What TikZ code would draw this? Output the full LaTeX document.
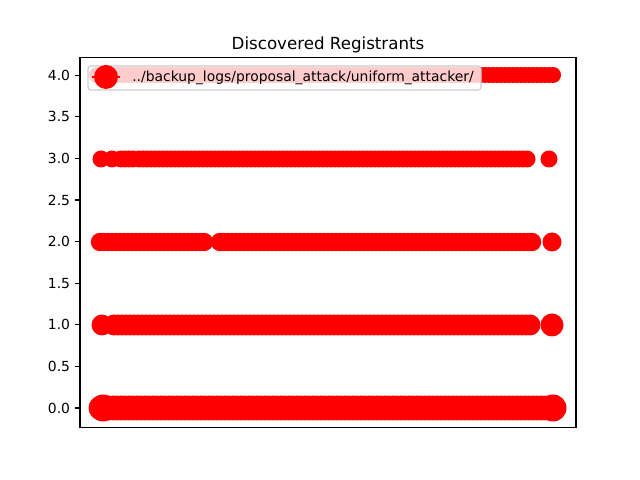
\documentclass[tikz,border=0pt]{standalone}
\usepackage{fontspec}
\setmainfont{DejaVu Sans}
\usetikzlibrary{positioning}
\definecolor{mplred}{RGB}{255,0,0}
\definecolor{legendedge}{RGB}{204,204,204}
\tikzset{
    axisframe/.style={draw=black, line width=0.8pt},
    ytick/.style={draw=black, line width=0.8pt},
    ticklabel/.style={anchor=east, inner sep=0pt, font=\fontsize{10}{12}\selectfont},
    titlelabel/.style={anchor=base, inner sep=0pt, font=\fontsize{12}{14}\selectfont},
    dot/.style={fill=mplred},
    legendbox/.style={draw=legendedge, fill=white, fill opacity=0.8, rounded corners=2pt, line width=0.8pt},
    legendline/.style={draw=mplred, line width=1.5pt},
    legendlabel/.style={anchor=west, inner sep=0pt, font=\fontsize{10}{12}\selectfont},
}
% a row of markers: height, radius, first values, last value
\newcommand{\markrow}[4]{\fill[dot] \foreach \xx in {#3,...,#4} {(\xx,#1) circle (#2)};}
% a single marker: height, radius, position
\newcommand{\markdot}[3]{\fill[dot] (#3,#1) circle (#2);}

\begin{document}
\begin{tikzpicture}[x=0.72pt, y=0.72pt]
	\useasboundingbox (0,0) rectangle (640,480);
	% markers, one row per value
	\markrow{405}{8}{97,101}{553}
	\markdot{321}{8.5}{101}
	\markdot{321}{8.5}{112}
	\markrow{321}{8.5}{121,125}{133}
	\markrow{321}{8.5}{139,143}{530}
	\markdot{321}{8.5}{549}
	\markrow{238}{9.2}{100,104}{204}
	\markrow{238}{9.2}{220,224}{532}
	\markdot{238}{9.5}{552}
	\markdot{155}{10.5}{102}
	\markrow{155}{10.5}{114,118}{531}
	\markdot{155}{11.5}{552}
	\markrow{72}{12.5}{101,105}{553}
	\markdot{72}{13.5}{103}
	\markdot{72}{13.5}{553}
	% axes
	\draw[axisframe] (80,52.8) rectangle (576,422.4);
	\foreach \k/\lab in {0/0.0,1/0.5,2/1.0,3/1.5,4/2.0,5/2.5,6/3.0,7/3.5,8/4.0}{
		\draw[ytick] (80,72+41.6*\k) -- (75.1,72+41.6*\k);
		\node[ticklabel] (tick\k) at (70.3,72+41.6*\k) {\lab};
	}
	\node[titlelabel] (title) at (328,430.7) {Discovered Registrants};
	% legend
	\draw[legendbox] (88,390) rectangle (481,414);
	\coordinate (handleA) at (92,403);
	\coordinate (handleB) at (120,403);
	\draw[legendline] (handleA) -- (handleB);
	\fill[dot] (106,403) circle (12);
	\node[legendlabel] (legendtext) at (132,402) {../backup\_logs/proposal\_attack/uniform\_attacker/};
\end{tikzpicture}
\end{document}
